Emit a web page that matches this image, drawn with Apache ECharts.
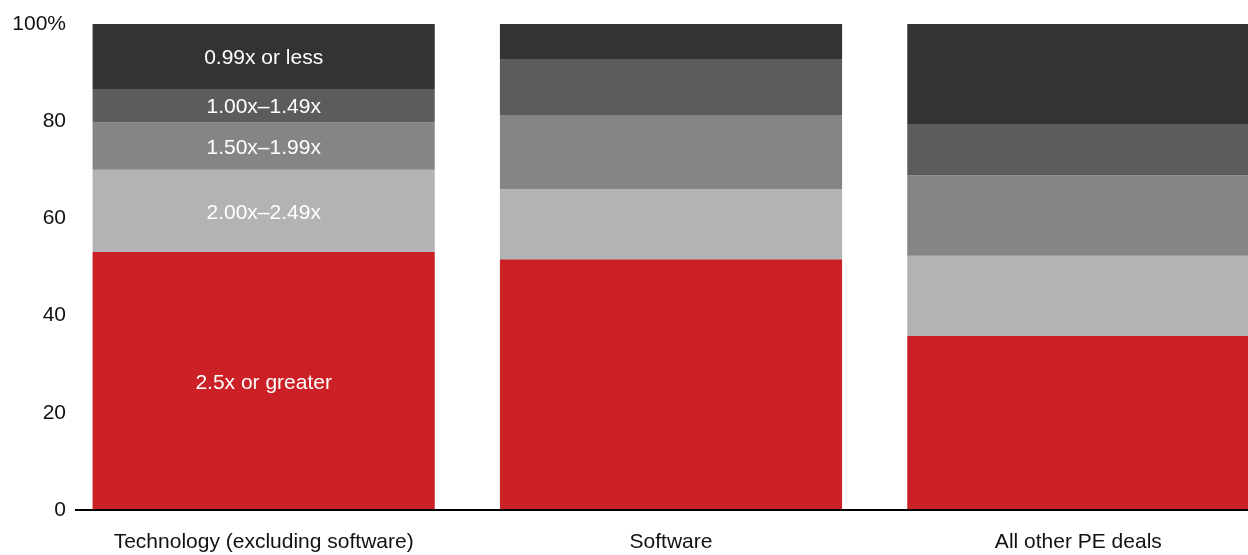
<!DOCTYPE html>
<html>
<head>
<meta charset="utf-8">
<script src="https://cdn.jsdelivr.net/npm/echarts@6/dist/echarts.min.js"></script>
<style>html,body{margin:0;padding:0;background:#fff;}#c{width:1248px;height:555px;}</style>
</head>
<body>
<div id="c"></div>
<script>
const categories = ['Technology (excluding software)', 'Software', 'All other PE deals'];
const seriesNames = ['2.5x or greater', '2.00x–2.49x', '1.50x–1.99x', '1.00x–1.49x', '0.99x or less'];
const s25 = [53.1, 51.6, 35.8];
const s200 = [16.9, 14.4, 16.5];
const s150 = [9.8, 15.3, 16.6];
const s100 = [6.8, 11.5, 10.5];
const s099 = [13.4, 7.2, 20.6];
const yTicks = [0, 20, 40, 60, 80, 100];
const colors = ['#CC2027', '#B3B3B3', '#858585', '#5C5C5C', '#323433'];
const values = [s25, s200, s150, s100, s099];
const FONT = 'Liberation Sans, Arial, sans-serif';

const chart = echarts.init(document.getElementById('c'), null, {renderer: 'canvas'});
chart.setOption({
  animation: false,
  grid: {left: 60, width: 1222, top: 24, bottom: 45, containLabel: false, outerBoundsMode: 'none'},
  xAxis: {
    type: 'category', data: categories,
    axisLine: {show: false},
    axisTick: {show: false},
    axisLabel: {color: '#111', fontSize: 21, fontFamily: FONT, margin: 22}
  },
  yAxis: {
    type: 'value', min: 0, max: 100, interval: 20,
    splitLine: {show: false}, axisLine: {show: false}, axisTick: {show: false},
    axisLabel: {color: '#111', fontSize: 21, fontFamily: FONT, margin: -6,
      formatter: v => yTicks.includes(v) ? (v === 100 ? '100%' : String(v)) : ''}
  },
  series: seriesNames.map((n, i) => ({
    name: n, type: 'bar', stack: 'all', data: values[i], barCategoryGap: '16%',
    itemStyle: {color: colors[i]},
    label: {show: true, position: 'inside', color: '#fff', fontSize: 21,
      fontFamily: FONT, offset: [0, 2],
      formatter: p => p.dataIndex === 0 ? n : ''}
  }))
});
const y0 = chart.convertToPixel({yAxisIndex: 0}, 0);
chart.setOption({
  graphic: [{type: 'line', shape: {x1: 75, y1: y0, x2: 1248, y2: y0},
    style: {stroke: '#000', lineWidth: 2}, z: 10}]
});
</script>
</body>
</html>
